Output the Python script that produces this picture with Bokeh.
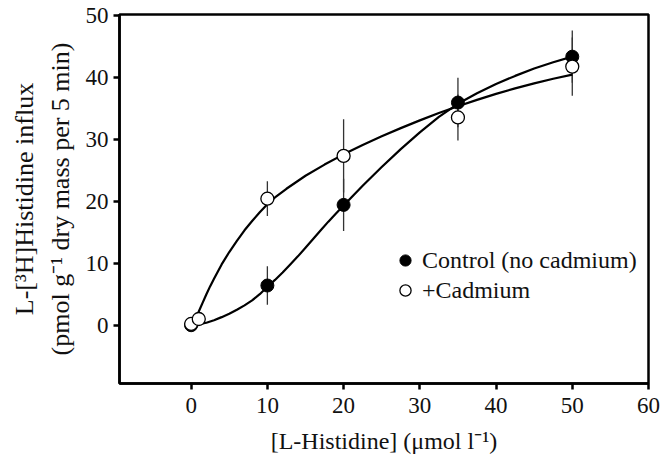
from bokeh.plotting import figure
from bokeh.models import (ColumnDataSource, Legend, LegendItem, FixedTicker, Range1d,
                          LinearAxis)
from bokeh.embed import file_html
from bokeh.resources import INLINE

# ---- data ----
ctrl_x = [0, 10, 20, 35, 50]
ctrl_y = [0, 6.4, 19.4, 35.9, 43.3]
ctrl_err = [0, 3.1, 4.2, 4.0, 4.2]

cd_x = [0, 1, 10, 20, 35, 50]
cd_y = [0.2, 1.0, 20.4, 27.3, 33.5, 41.7]
cd_err = [0, 0, 2.8, 5.9, 3.7, 4.7]

ctrl_curve_x = [0, 1, 2, 3, 4, 5, 6, 7, 8, 9, 10, 11, 12, 13, 14, 15, 16, 17, 18, 19, 20,
                22.5, 25, 27.5, 30, 32.5, 35, 37.5, 40, 42.5, 45, 47.5, 50]
ctrl_curve_y = [0, 0.15, 0.4, 0.8, 1.3, 1.85, 2.5, 3.2, 4.0, 5.0, 6.2, 7.3, 8.5, 9.8, 11.1,
                12.5, 13.9, 15.3, 16.7, 18.0, 19.3,
                22.5, 25.5, 28.4, 31.1, 33.6, 35.7, 37.4, 38.9, 40.2, 41.4, 42.4, 43.3]

cd_curve_x = [0.3, 0.6, 1, 1.5, 2, 2.5, 3, 4, 5, 6, 7, 8, 9, 10, 11, 12.5, 15, 17.5, 20,
              22.5, 25, 27.5, 30, 32.5, 35, 37.5, 40, 42.5, 45, 47.5, 50]
cd_curve_y = [0.3, 1.1, 2.2, 3.6, 5.0, 6.3, 7.5, 9.8, 11.8, 13.6, 15.3, 16.8, 18.2, 19.5,
              20.6, 22.0, 24.1, 25.9, 27.55,
              29.06, 30.46, 31.78, 33.03, 34.21, 35.31, 36.34, 37.3, 38.19, 39.0, 39.74, 40.41]

x_ticks = [0, 10, 20, 30, 40, 50, 60]
y_ticks = [0, 10, 20, 30, 40, 50]

x_label = "[L-Histidine] (\u03bcmol l\u207b\u00b9)"
y_label1 = "L-[\u00b3H]Histidine influx"
y_label2 = "(pmol g\u207b\u00b9 dry mass per 5 min)"
legend_labels = ["Control (no cadmium)", "+Cadmium"]

FONT = "Liberation Serif"
TXT = "#111111"

p = figure(width=672, height=458, output_backend="svg", toolbar_location=None,
           x_range=Range1d(-9.4, 60), y_range=Range1d(-9.4, 50.1),
           min_border_left=119, min_border_right=24, min_border_top=14, min_border_bottom=75)
p.xgrid.visible = False
p.ygrid.visible = False
p.background_fill_color = "white"
p.border_fill_color = "white"
p.outline_line_color = "black"
p.outline_line_width = 2.5

for ax, ticks in ((p.xaxis[0], x_ticks), (p.yaxis[0], y_ticks)):
    ax.ticker = FixedTicker(ticks=ticks)
    ax.axis_line_width = 2.5
    ax.axis_line_color = "black"
    ax.major_tick_line_width = 2.5
    ax.major_tick_out = 6
    ax.major_tick_in = 0
    ax.minor_tick_line_color = None
    ax.major_label_text_font = FONT
    ax.major_label_text_font_size = "23px"
    ax.major_label_text_color = TXT
    ax.axis_label_text_font = FONT
    ax.axis_label_text_font_style = "normal"
    ax.axis_label_text_color = TXT
p.xaxis.major_label_standoff = 8
p.yaxis.major_label_standoff = 5
p.xaxis.axis_label = x_label
p.xaxis.axis_label_text_font_size = "24px"
p.xaxis.axis_label_standoff = 12
p.yaxis.axis_label = y_label2
p.yaxis.axis_label_text_font_size = "26px"
p.yaxis.axis_label_standoff = 8

outer = LinearAxis(axis_label=y_label1, ticker=FixedTicker(ticks=[]),
                   axis_line_color=None, major_tick_line_color=None, major_tick_out=0,
                   major_tick_in=0, minor_tick_line_color=None, minor_tick_out=0,
                   major_label_text_color=None,
                   axis_label_text_font=FONT, axis_label_text_font_size="26px",
                   axis_label_text_font_style="normal", axis_label_text_color=TXT,
                   axis_label_standoff=4)
p.add_layout(outer, "left")

ctrl_src = ColumnDataSource(dict(x=ctrl_x, y=ctrl_y,
                                 lo=[a - b for a, b in zip(ctrl_y, ctrl_err)],
                                 hi=[a + b for a, b in zip(ctrl_y, ctrl_err)]))
cd_src = ColumnDataSource(dict(x=cd_x, y=cd_y,
                               lo=[a - b for a, b in zip(cd_y, cd_err)],
                               hi=[a + b for a, b in zip(cd_y, cd_err)]))

p.segment(x0="x", y0="lo", x1="x", y1="hi", source=ctrl_src, line_color="#333333", line_width=1.3)
p.segment(x0="x", y0="lo", x1="x", y1="hi", source=cd_src, line_color="#333333", line_width=1.3)

p.line(ctrl_curve_x, ctrl_curve_y, line_color="black", line_width=2.2, line_join="round")
p.line(cd_curve_x, cd_curve_y, line_color="black", line_width=2.2, line_join="round")

r_ctrl = p.scatter("x", "y", source=ctrl_src, size=13, marker="circle",
                   fill_color="black", line_color="black", line_width=1)
r_cd = p.scatter("x", "y", source=cd_src, size=13, marker="circle",
                 fill_color="white", line_color="black", line_width=1.3)

legend = Legend(items=[LegendItem(label=legend_labels[0], renderers=[r_ctrl]),
                       LegendItem(label=legend_labels[1], renderers=[r_cd])],
                location=(272, 79), glyph_width=28, glyph_height=28, label_height=28,
                label_text_font=FONT, label_text_font_size="24px", label_text_color=TXT,
                label_standoff=3, spacing=2, padding=0, margin=0,
                border_line_color=None, background_fill_alpha=0)
p.add_layout(legend, "center")

open("out.html", "w").write(file_html(p, INLINE))
